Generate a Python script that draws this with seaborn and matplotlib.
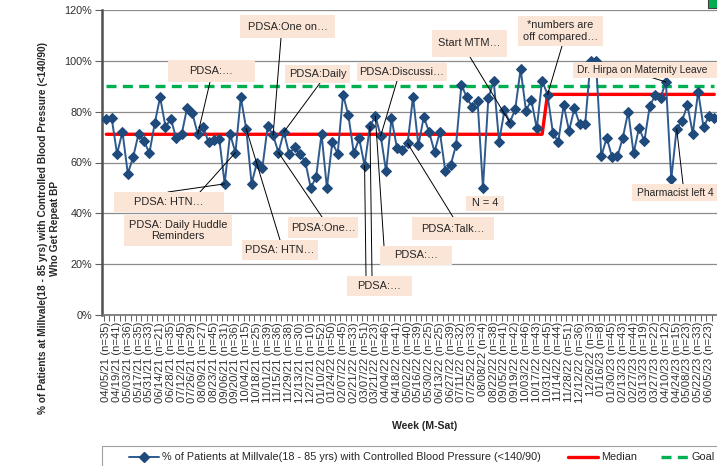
import matplotlib
matplotlib.use("Agg")
import matplotlib.pyplot as plt
from matplotlib.patches import Rectangle
from matplotlib.lines import Line2D
from matplotlib.ticker import PercentFormatter, FixedLocator
import seaborn as sns
import pandas as pd

# ---- data -------------------------------------------------------------
# biweekly axis labels (every other week) and the number of patients that week
label_weeks = [
    "04/05/21", "04/19/21", "05/03/21", "05/17/21", "05/31/21", "06/14/21",
    "06/28/21", "07/12/21", "07/26/21", "08/09/21", "08/23/21", "09/06/21",
    "09/20/21", "10/04/21", "10/18/21", "11/01/21", "11/15/21", "11/29/21",
    "12/13/21", "12/27/21", "01/10/22", "01/24/22", "02/07/22", "02/21/22",
    "03/07/22", "03/21/22", "04/04/22", "04/18/22", "05/02/22", "05/16/22",
    "05/30/22", "06/13/22", "06/27/22", "07/11/22", "07/25/22", "08/08/22",
    "08/22/22", "09/05/22", "09/19/22", "10/03/22", "10/17/22", "10/31/22",
    "11/14/22", "11/28/22", "12/12/22", "12/26/22", "01/16/23", "01/30/23",
    "02/13/23", "02/27/23", "03/13/23", "03/27/23", "04/10/23", "04/24/23",
    "05/08/23", "05/22/23", "06/05/23",
]
label_n = [
    35, 41, 36, 35, 33, 21, 35, 45, 29, 27, 45, 31, 36, 15, 25, 39, 36, 38,
    30, 10, 52, 50, 45, 33, 51, 23, 46, 41, 40, 39, 25, 25, 39, 32, 33, 4,
    38, 41, 42, 46, 43, 45, 44, 51, 36, 3, 8, 45, 43, 44, 19, 22, 12, 15,
    23, 33, 23,
]

# weekly % of patients with controlled BP
pct_controlled = [
    77.1, 77.4, 63.4, 72.1, 55.6, 62.2, 71.4, 68.6, 63.6, 75.4,
    85.7, 74.1, 77.1, 69.5, 71.1, 81.3, 79.3, 71.2, 74.1, 67.9,
    68.9, 69.2, 51.6, 71.2, 63.9, 85.6, 73.3, 51.7, 60.0, 57.8,
    74.4, 70.7, 63.9, 72.0, 63.2, 66.2, 63.3, 60.1, 50.0, 54.4,
    71.2, 50.0, 68.0, 63.4, 86.7, 78.5, 63.6, 69.5, 58.8, 74.3,
    78.3, 70.5, 56.5, 77.4, 65.9, 65.0, 67.5, 85.9, 66.7, 77.9,
    72.0, 64.2, 72.0, 56.6, 59.0, 66.8, 90.6, 85.6, 81.8, 84.2,
    50.0, 85.3, 92.1, 68.2, 80.5, 75.7, 81.0, 96.7, 80.4, 84.6,
    73.4, 92.2, 86.7, 71.7, 68.2, 82.6, 72.5, 81.3, 75.0, 75.1,
    100.0, 100.0, 62.5, 69.7, 62.2, 62.5, 69.8, 80.0, 63.6, 73.7,
    68.4, 82.2, 86.4, 85.5, 91.7, 53.4, 73.3, 76.4, 82.6, 71.4,
    87.9, 73.8, 78.3, 77.4,
]

median_levels = [71.1, 86.8]   # baseline median, then shifted median
median_shift_week = 82         # first week of the shifted median
goal_pct = 90.0

series_name = "% of Patients at Millvale(18 - 85 yrs) with Controlled Blood Pressure (<140/90)"

# ---- frame ------------------------------------------------------------
n_weeks = len(pct_controlled)
weeks = list(range(n_weeks))
median_line = [median_levels[0] if w < median_shift_week else median_levels[1] for w in weeks]
df = pd.DataFrame({
    "week": weeks,
    "pct": pct_controlled,
    "median": median_line,
    "goal": [goal_pct] * n_weeks,
})

W, H = 717, 466
sns.set_theme(style="white")
plt.rcParams["font.family"] = ["Liberation Sans", "DejaVu Sans"]

fig = plt.figure(figsize=(W / 100, H / 100), dpi=100)
ax_left, ax_right, ax_top, ax_bottom = 102, 717, 10, 315
ax = fig.add_axes([ax_left / W, 1 - ax_bottom / H,
                   (ax_right - ax_left) / W, (ax_bottom - ax_top) / H])

navy = "#1F4A7C"
line_blue = "#2E5A8E"
goal_dash = (0, (3.0, 1.9))
sns.lineplot(data=df, x="week", y="goal", ax=ax, color="#00B050", lw=2.4,
             linestyle=goal_dash, zorder=3)
sns.lineplot(data=df, x="week", y="median", ax=ax, color="#FF0000", lw=2.4, zorder=3)
sns.lineplot(data=df, x="week", y="pct", ax=ax, color=line_blue, lw=1.4,
             marker="D", markersize=5.2, markerfacecolor=navy,
             markeredgecolor=navy, zorder=4)

ax.set_xlim(-0.8, 113.1)
ax.set_ylim(0, 120)
ax.yaxis.set_major_locator(FixedLocator([0, 20, 40, 60, 80, 100, 120]))
ax.yaxis.set_major_formatter(PercentFormatter(decimals=0))
ax.grid(axis="y", color="#8C8C8C", lw=0.9)
ax.grid(axis="x", visible=False)
ax.set_axisbelow(True)

label_pos = list(range(0, 2 * len(label_weeks), 2))
ax.set_xticks(label_pos)
ax.set_xticklabels([f"{d} (n={n})" for d, n in zip(label_weeks, label_n)],
                   rotation=90, fontsize=8.1, color="#303030")
ax.set_xticks([w - 0.5 for w in weeks] + [n_weeks - 0.5], minor=True)
ax.tick_params(axis="x", which="major", length=0, pad=5)
ax.tick_params(axis="x", which="minor", length=4, width=0.7, color="#606060",
               direction="out", bottom=True)
ax.tick_params(axis="y", length=5, width=0.8, color="#606060", labelsize=7.8,
               labelcolor="#303030", left=True, pad=2)

for s in ("top", "right"):
    ax.spines[s].set_visible(False)
ax.spines["left"].set_color("#505050")
ax.spines["left"].set_linewidth(1.8)
ax.spines["bottom"].set_color("#707070")
ax.spines["bottom"].set_linewidth(1.2)

ax.set_xlabel("")
ax.set_ylabel("")
fig.text(425 / W, 1 - 426 / H, "Week (M-Sat)", ha="center", va="center",
         fontsize=7.6, fontweight="bold", color="#262626")
fig.text(49 / W, 1 - 228 / H,
         "% of Patients at Millvale(18 - 85 yrs) with Controlled Blood Pressure (<140/90)\nWho Get Repeat BP",
         ha="center", va="center", rotation=90, fontsize=7.3, fontweight="bold",
         color="#262626", linespacing=1.2, multialignment="center")

# ---- callouts -----------------------------------------------------------
box_color = "#FBE5D6"


def fig_xy(x, y):
    return x, H - y


def callout(text, box, targets=(), anchors=(), size=7.9, text_x=None):
    x0, y0, x1, y1 = box
    fig.patches.append(Rectangle((x0 / W, 1 - y1 / H), (x1 - x0) / W, (y1 - y0) / H,
                                 transform=fig.transFigure, facecolor=box_color,
                                 edgecolor="none", zorder=5))
    if text_x is None:
        tx, ha = (x0 + x1) / 2, "center"
    else:
        tx, ha = text_x, "left"
    fig.text(tx / W, 1 - (y0 + y1) / 2 / H, text, ha=ha, va="center",
             fontsize=size, color="#262626", zorder=6, linespacing=1.2)
    for wk, (axp, ayp) in zip(targets, anchors):
        ax.annotate("", xy=(wk, pct_controlled[wk]), xycoords="data",
                    xytext=fig_xy(axp, ayp), textcoords="figure pixels",
                    arrowprops=dict(arrowstyle="-", color="black", lw=0.7,
                                    shrinkA=0, shrinkB=0),
                    annotation_clip=False, zorder=4.5)


callout("PDSA:…", (168, 60, 255, 82), [17], [(210, 82)])
callout("PDSA:One on…", (240, 15, 335, 38), [31], [(281, 38)])
callout("PDSA:Daily", (285, 65, 350, 83), [33], [(320, 83)])
callout("PDSA:Discussi…", (357, 63, 447, 81), [51], [(397, 81)])
callout("Start MTM…", (432, 30, 507, 57), [75], [(470, 57)])
callout("*numbers are\noff compared…", (518, 16, 603, 46), [82], [(562, 46)])
callout("Dr. Hirpa on Maternity Leave", (573, 62, 724, 78), [104], [(650, 77)],
        size=7.4, text_x=577)
callout("Pharmacist left 4", (632, 184, 724, 201), [106], [(683, 184)],
        size=7.4, text_x=637)
callout("N = 4", (466, 196, 504, 211))
callout("PDSA:Talk…", (412, 217, 494, 240), [56], [(453, 217)])
callout("PDSA:One…", (288, 217, 358, 238), [32], [(322, 217)])
callout("PDSA: HTN…", (114, 192, 224, 212), [22, 24], [(168, 192), (200, 192)])
callout("PDSA: Daily Huddle\nReminders", (124, 215, 232, 246))
callout("PDSA: HTN…", (242, 240, 318, 260), [26], [(280, 240)])
callout("PDSA:…", (380, 246, 452, 265), [50], [(384, 246)])
callout("PDSA:…", (347, 276, 412, 296), [48, 49], [(366, 276), (372, 276)])

fig.patches.append(Rectangle((708 / W, 1 - 8 / H), 10 / W, 9 / H, transform=fig.transFigure,
                             facecolor="#00B050", edgecolor="#404040", lw=0.8, zorder=5))

# ---- legend (runs past the right edge of the canvas) ---------------------
fig.patches.append(Rectangle((102 / W, 1 - 472 / H), 640 / W, 26 / H,
                             transform=fig.transFigure, facecolor="white",
                             edgecolor="#A0A0A0", lw=0.8, zorder=5))
leg_y = 1 - 457 / H
legend_items = [
    (series_name, (129, 159), dict(color=line_blue, lw=1.4, marker="D", markersize=5,
                                   markevery=[1], markerfacecolor=navy,
                                   markeredgecolor=navy)),
    ("Median", (568, 598), dict(color="#FF0000", lw=2.4)),
    ("Goal", (661, 688), dict(color="#00B050", lw=2.4, linestyle=goal_dash)),
]
for label, (hx0, hx1), style in legend_items:
    fig.add_artist(Line2D([hx0 / W, (hx0 + hx1) / 2 / W, hx1 / W], [leg_y] * 3,
                          transform=fig.transFigure, zorder=6, **style))
    fig.text((hx1 + 3) / W, leg_y, label, ha="left", va="center", fontsize=7.8,
             color="#262626", zorder=6)

fig.savefig("out.png", dpi=100)
